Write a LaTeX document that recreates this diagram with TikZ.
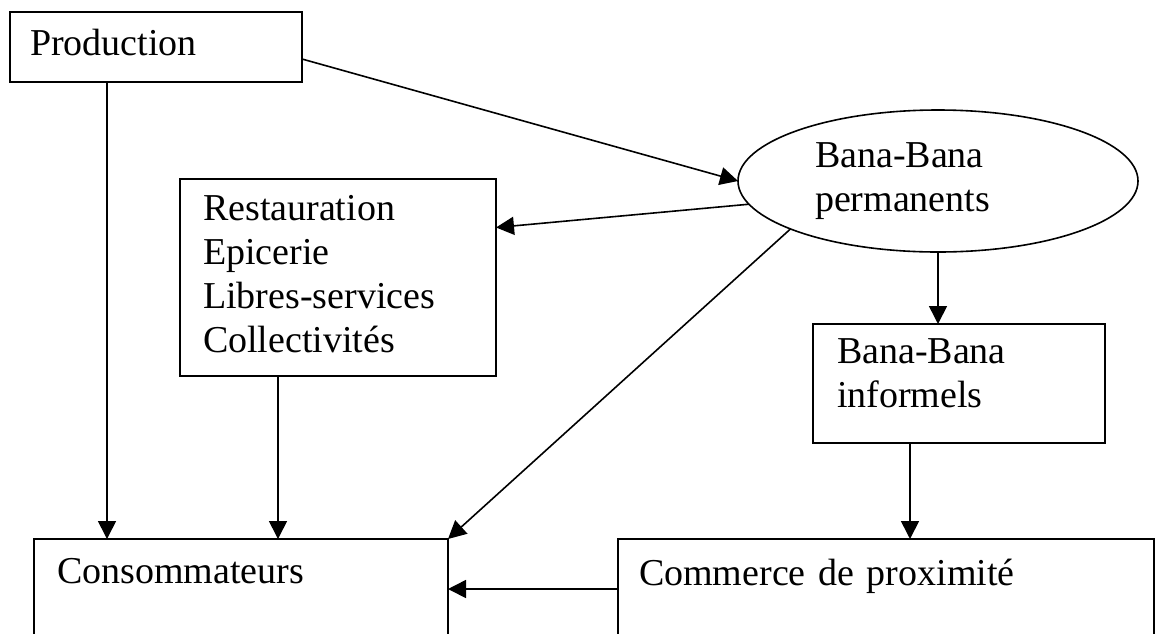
\documentclass[tikz,border=0pt]{standalone}
\usepackage{fontspec}
\setmainfont{Liberation Serif}
\usetikzlibrary{arrows.meta,shapes.geometric}

\begin{document}
\begin{tikzpicture}
	[x=0.5pt,y=-0.5pt,
	every node/.style={font=\fontsize{19pt}{22pt}\selectfont,inner ysep=0pt,outer sep=0pt,line width=0.8pt},
	box/.style={draw,rectangle,anchor=base west,align=left},
	oval/.style={draw,ellipse,inner sep=0pt,minimum width=200pt,minimum height=71pt,text width=123pt,align=left},
	flow/.style={line width=0.8pt,-{Triangle[length=9pt,width=9pt]}}]
	\useasboundingbox (0,0) rectangle (1155,633);
	\node[box,inner xsep=10pt,text width=126pt,text height=21.5pt,text depth=13.5pt] (prod) at (10,55) {Production};
	\node[oval] (ban) at (938,181) {Bana-Bana\\permanents};
	\node[box,inner xsep=11.5pt,text width=135pt,text height=20.5pt,text depth=78pt] (rest) at (180,220)
		{Restauration\\Epicerie\\Libres-services\\Collectivités};
	\node[box,inner xsep=12pt,text width=122pt,text height=19.5pt,text depth=40pt] (inf) at (813,363) {Bana-Bana\\informels};
	\node[box,inner xsep=11.5pt,text width=184pt,text height=22pt,text depth=38.5pt] (cons) at (34,583) {Consommateurs};
	\node[box,inner xsep=10.5pt,text width=247pt,text height=23pt,text depth=37.5pt] (comm) at (618,585) {Commerce de proximité};
	\coordinate (p1) at ([xshift=48.5pt]prod.south west);
	\coordinate (r1) at ([xshift=49pt]rest.south west);
	\coordinate (i1) at ([xshift=48.5pt]inf.south west);
	\coordinate (c1) at ([yshift=-25pt]comm.north west);
	\draw[flow] ([yshift=-6pt]prod.east) -- (ban.west);
	\draw[flow] (p1) -- (p1 |- cons.north);
	\draw[flow] (ban.187) -- ([yshift=25pt]rest.east);
	\draw[flow] (r1) -- (r1 |- cons.north);
	\draw[flow] (ban.198) -- (cons.north east);
	\draw[flow] (ban.south) -- (ban.south |- inf.north);
	\draw[flow] (i1) -- (i1 |- comm.north);
	\draw[flow] (c1) -- (c1 -| cons.east);
\end{tikzpicture}
\end{document}
